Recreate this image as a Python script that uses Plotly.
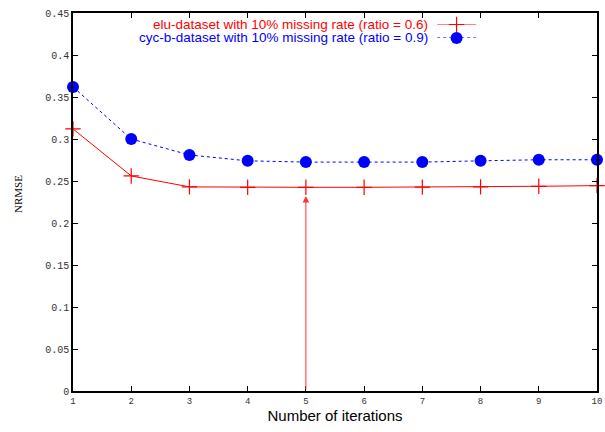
import plotly.graph_objects as go

iterations = [1, 2, 3, 4, 5, 6, 7, 8, 9, 10]
elu_nrmse = [0.312, 0.256, 0.243, 0.2425, 0.2425, 0.2425, 0.2427, 0.243, 0.2437, 0.2445]
cyc_nrmse = [0.362, 0.300, 0.281, 0.274, 0.2725, 0.2725, 0.2725, 0.274, 0.2753, 0.2753]
elu_label = "elu-dataset with 10% missing rate (ratio = 0.6)"
cyc_label = "cyc-b-dataset with 10% missing rate (ratio = 0.9)"
y_ticks = [0, 0.05, 0.1, 0.15, 0.2, 0.25, 0.3, 0.35, 0.4, 0.45]
y_tick_text = ["0", "0.05", "0.1", "0.15", "0.2", "0.25", "0.3", "0.35", "0.4", "0.45"]
arrow_x = 5
arrow_top = 0.232

fig = go.Figure()
fig.add_trace(go.Scatter(x=iterations, y=elu_nrmse, mode="lines+markers",
                         line=dict(color="#ff0000", width=1),
                         marker=dict(symbol="cross-thin", size=11, line=dict(color="#ff0000", width=1.2)),
                         showlegend=False, cliponaxis=False))
fig.add_trace(go.Scatter(x=iterations, y=cyc_nrmse, mode="lines+markers",
                         line=dict(color="#0000ff", width=1, dash="dot"),
                         marker=dict(symbol="circle", size=12, color="#0000ff"),
                         showlegend=False, cliponaxis=False))

# legend samples on a small separate axis pair placed in the legend area
fig.add_trace(go.Scatter(x=[0.0, 1.0], y=[1, 1], xaxis="x2", yaxis="y2", mode="lines",
                         line=dict(color="#ff0000", width=1), showlegend=False, hoverinfo="skip", cliponaxis=False))
fig.add_trace(go.Scatter(x=[0.5], y=[1], xaxis="x2", yaxis="y2", mode="markers",
                         marker=dict(symbol="cross-thin", size=11, line=dict(color="#ff0000", width=1.2)),
                         showlegend=False, hoverinfo="skip", cliponaxis=False))
fig.add_trace(go.Scatter(x=[0.0, 1.0], y=[0, 0], xaxis="x2", yaxis="y2", mode="lines",
                         line=dict(color="#0000ff", width=1, dash="dot"), showlegend=False, hoverinfo="skip", cliponaxis=False))
fig.add_trace(go.Scatter(x=[0.5], y=[0], xaxis="x2", yaxis="y2", mode="markers",
                         marker=dict(symbol="circle", size=12, color="#0000ff"),
                         showlegend=False, hoverinfo="skip", cliponaxis=False))

fig.add_annotation(x=arrow_x, y=arrow_top, ax=arrow_x, ay=0, xref="x", yref="y", axref="x", ayref="y",
                   text="", showarrow=True, arrowhead=2, arrowsize=1.3, arrowwidth=1, arrowcolor="#ff3030")

fig.add_annotation(x=0.682, y=0.9696, xref="paper", yref="paper", text=elu_label, showarrow=False,
                   xanchor="right", yanchor="middle", font=dict(family="Liberation Sans", size=13.5, color="#ff0000"))
fig.add_annotation(x=0.682, y=0.934, xref="paper", yref="paper", text=cyc_label, showarrow=False,
                   xanchor="right", yanchor="middle", font=dict(family="Liberation Sans", size=13.5, color="#0000ff"))
fig.add_annotation(x=-0.105, y=0.521, xref="paper", yref="paper", text="NRMSE", showarrow=False, textangle=-90,
                   xanchor="center", yanchor="middle", font=dict(family="Liberation Serif", size=11, color="#000"))

fig.update_layout(
    width=605, height=432,
    margin=dict(l=73, r=8, t=13, b=41, autoexpand=False),
    paper_bgcolor="white", plot_bgcolor="white",
    xaxis=dict(domain=[0, 1], range=[1, 10], tickvals=iterations, ticks="inside", ticklen=5, tickcolor="#000",
               showline=True, linecolor="#000", linewidth=1.5, mirror="ticks", showgrid=False, zeroline=False,
               automargin=False,
               tickfont=dict(family="Liberation Mono", size=9, color="#333"),
               title=dict(text="Number of iterations", font=dict(family="Liberation Sans", size=15, color="#000"), standoff=2)),
    yaxis=dict(domain=[0, 1], range=[0, 0.45], tickvals=y_ticks, ticktext=y_tick_text, ticks="inside", ticklen=5, tickcolor="#000",
               showline=True, linecolor="#000", linewidth=1.5, mirror="ticks", showgrid=False, zeroline=False,
               automargin=False,
               tickfont=dict(family="Liberation Mono", size=10, color="#333")),
    xaxis2=dict(domain=[0.695, 0.769], range=[0, 1], visible=False, anchor="y2", showgrid=False, zeroline=False),
    yaxis2=dict(domain=[0.934, 0.9696], range=[0, 1], visible=False, anchor="x2", showgrid=False, zeroline=False),
)

fig.write_html("out.html")
